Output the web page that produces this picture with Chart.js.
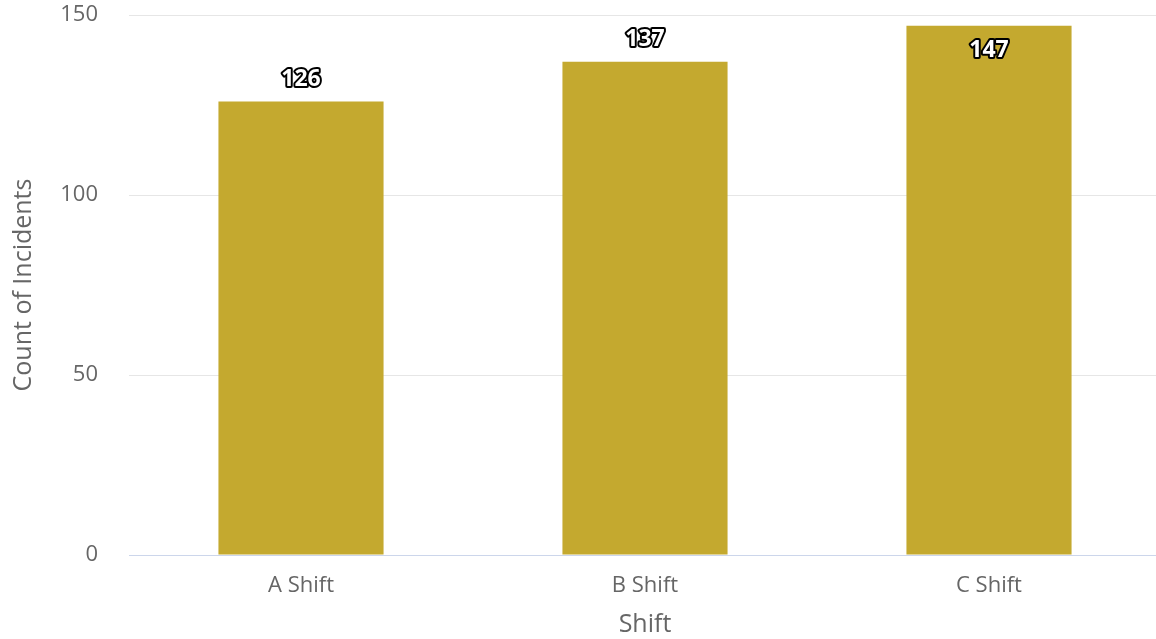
<!DOCTYPE html>
<html lang="en">

<head>
    <meta charset="UTF-8">
    <title>Incidents by Shift</title>
    <script src="https://cdn.jsdelivr.net/npm/chart.js"></script>
    <style>
        body { margin: 0; background: #fff; overflow: hidden; }
        #wrap { width: 1156px; height: 639px; overflow: hidden; }
    </style>
</head>

<body>
    <!-- plot area runs a few px past the right edge, as in the original crop -->
    <div id="wrap"><canvas id="shiftChart" width="1161" height="639"></canvas></div>

    <script>
        var shifts = ['A Shift', 'B Shift', 'C Shift'];
        var incidentCounts = [126, 137, 147];
        var yTicks = [0, 50, 100, 150];

        var barColor = '#c4a92f';
        var textGray = '#666666';

        // draws the outlined value labels, above the bar or inside when no room
        var valueLabels = {
            id: 'valueLabels',
            afterDatasetsDraw: function (chart) {
                var ctx = chart.ctx;
                var meta = chart.getDatasetMeta(0);
                ctx.save();
                ctx.font = 'bold 23px "Open Sans"';
                ctx.textAlign = 'center';
                ctx.textBaseline = 'middle';
                ctx.lineJoin = 'round';
                meta.data.forEach(function (bar, i) {
                    var y = bar.y - 22;
                    if (y - 12 < chart.chartArea.top) {
                        y = bar.y + 25;
                    }
                    var txt = String(incidentCounts[i]);
                    ctx.lineWidth = 4;
                    ctx.strokeStyle = '#000';
                    ctx.strokeText(txt, bar.x, y);
                    ctx.fillStyle = '#fff';
                    ctx.fillText(txt, bar.x, y);
                });
                ctx.restore();
            }
        };

        var ctx = document.getElementById('shiftChart').getContext('2d');
        var myChart = new Chart(ctx, {
            type: 'bar',
            data: {
                labels: shifts,
                datasets: [{
                    data: incidentCounts,
                    backgroundColor: barColor,
                    borderWidth: 0,
                    barPercentage: 0.48,
                    categoryPercentage: 1
                }]
            },
            options: {
                responsive: false,
                animation: false,
                layout: { padding: { top: 15, right: 0, left: 1, bottom: 0 } },
                plugins: {
                    legend: { display: false },
                    tooltip: { enabled: false }
                },
                scales: {
                    x: {
                        grid: { display: false },
                        border: { display: false },
                        ticks: {
                            color: textGray,
                            font: { family: 'Open Sans', size: 22 },
                            padding: 10
                        },
                        title: {
                            display: true,
                            text: 'Shift',
                            color: textGray,
                            font: { family: 'Open Sans', size: 25 },
                            padding: { top: 0, bottom: -1 }
                        },
                        afterFit: function (axis) {
                            axis.height = 84;
                            axis.paddingLeft = 0;
                            axis.paddingRight = 0;
                        }
                    },
                    y: {
                        min: 0,
                        max: 150,
                        afterBuildTicks: function (axis) {
                            axis.ticks = yTicks.map(function (v) { return { value: v }; });
                        },
                        grid: {
                            drawTicks: false,
                            lineWidth: 1,
                            color: function (c) {
                                return c.tick && c.tick.value === 0 ? '#ccd6eb' : '#e6e6e6';
                            }
                        },
                        border: { display: false },
                        ticks: {
                            color: textGray,
                            font: { family: 'Open Sans', size: 22 },
                            padding: 31
                        },
                        title: {
                            display: true,
                            text: 'Count of Incidents',
                            color: textGray,
                            font: { family: 'Open Sans', size: 25 },
                            padding: { top: 8, bottom: 0 }
                        },
                        afterFit: function (axis) {
                            axis.width = 128;
                            axis.paddingTop = 0;
                            axis.paddingBottom = 0;
                        }
                    }
                }
            },
            plugins: [valueLabels]
        });
    </script>

</body>

</html>
